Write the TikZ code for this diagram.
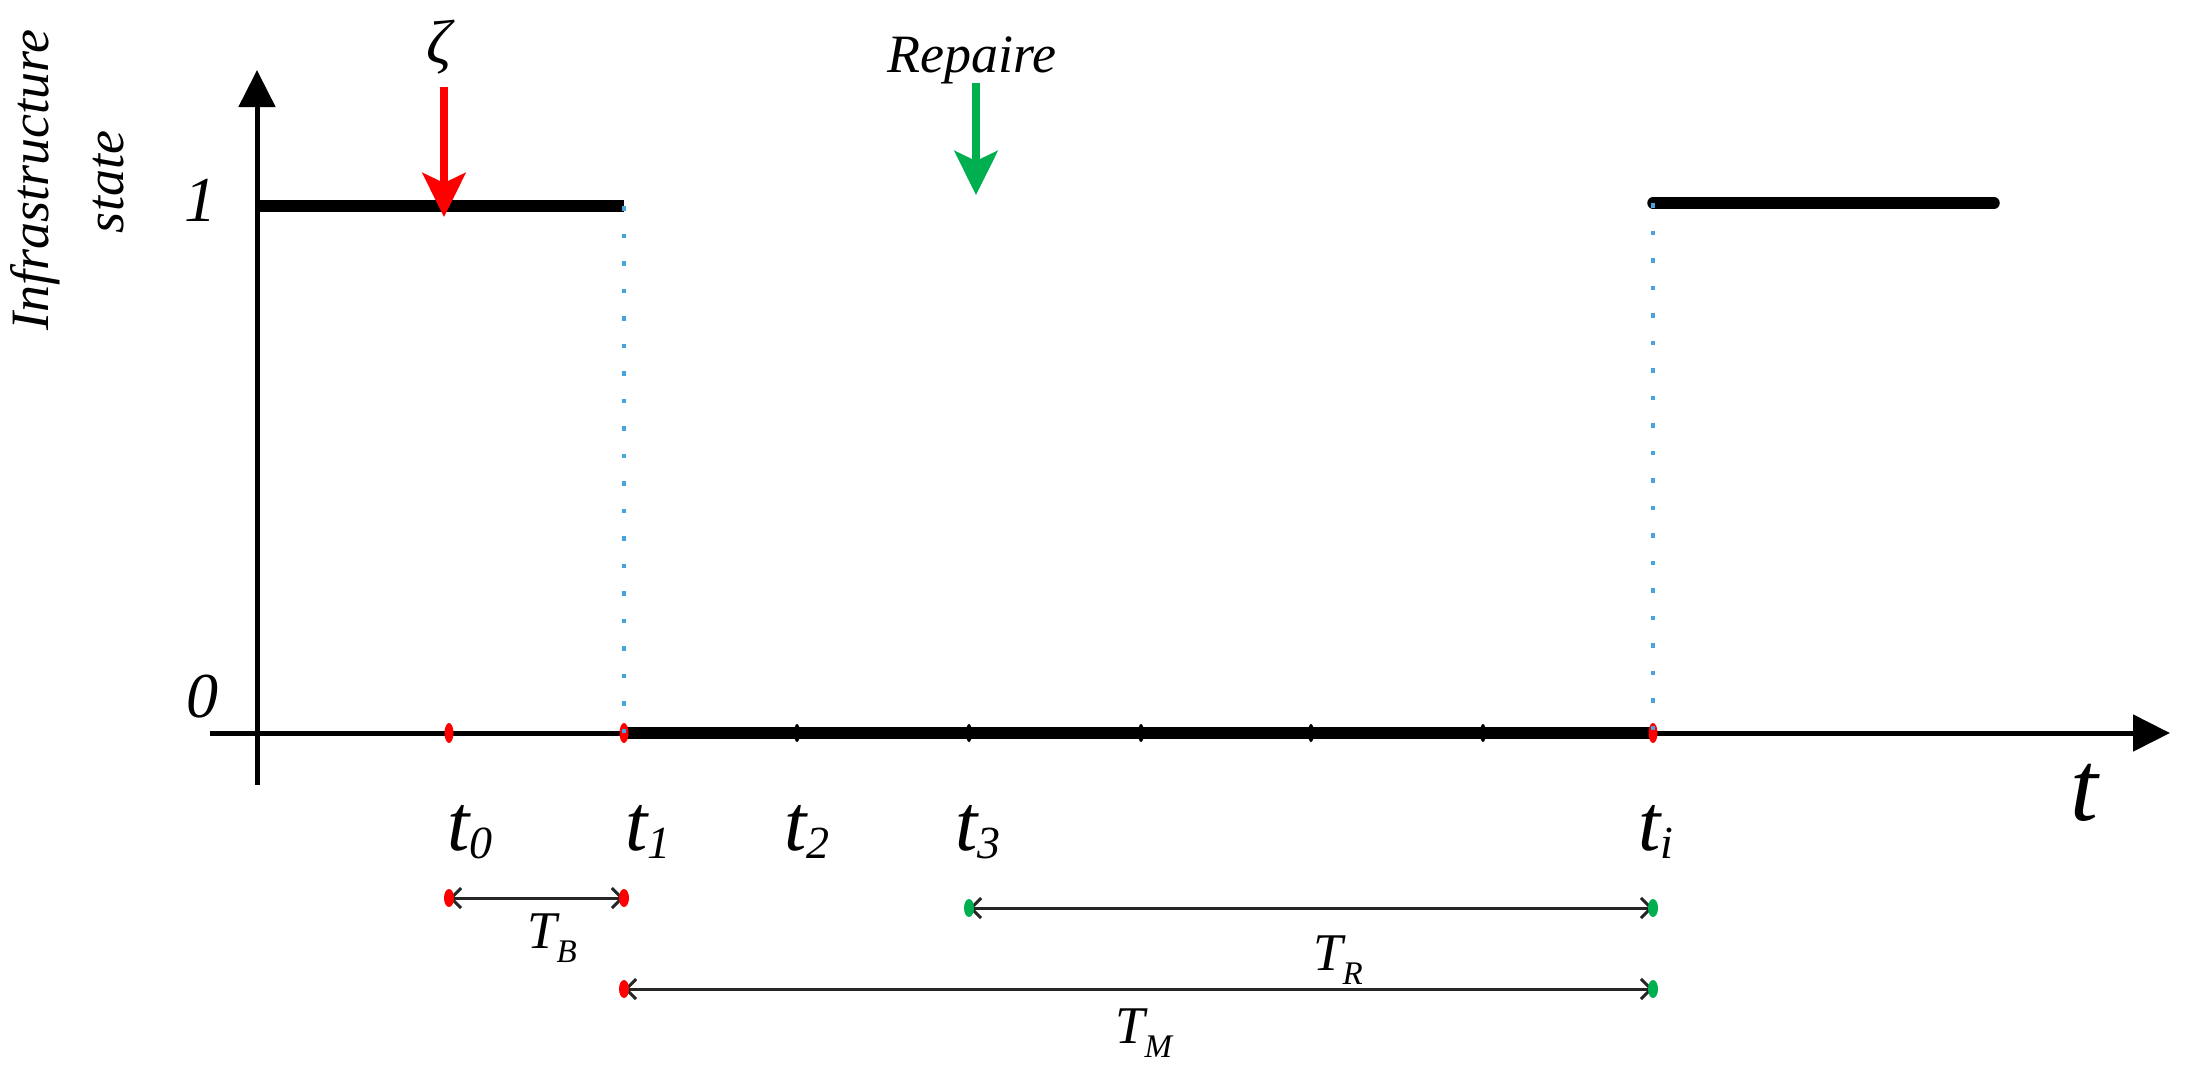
\documentclass[tikz,border=0pt]{standalone}
\usepackage{fontspec}
\setmainfont{Liberation Serif}
\usetikzlibrary{arrows.meta}
\definecolor{dotblue}{RGB}{72,164,224}
\definecolor{evred}{RGB}{255,0,0}
\definecolor{evgreen}{RGB}{0,176,80}
\newcommand\mytl[1]{{\fontsize{80}{80}\selectfont t}\raisebox{-8pt}{\fontsize{46}{46}\selectfont #1}}
\newcommand\mydl[2]{{\fontsize{53}{53}\selectfont #1}\raisebox{-14pt}{\fontsize{33}{33}\selectfont #2}}
\tikzset{
  axisline/.style={line width=5pt, -{Triangle[length=37pt,width=36pt]}},
  stateline/.style={line width=11.5pt},
  guide/.style={draw=dotblue, line width=4.5pt, dash pattern=on 4.5pt off 23pt},
  eventarrow/.style={line width=8pt, -{Stealth[length=44pt,width=43pt,inset=10pt]}},
  dimline/.style={line width=3pt, draw=black!85, {Straight Barb[length=10pt,width=20pt]}-{Straight Barb[length=10pt,width=20pt]}},
  lbl/.style={inner sep=0pt, font=\itshape},
}
\begin{document}
\begin{tikzpicture}[x=1pt,y=-1pt]
\useasboundingbox (0,0) rectangle (2189,1080);
% coordinates
\coordinate (yb) at (257,785); \coordinate (yt) at (257,70);
\coordinate (xl) at (210,733); \coordinate (xr) at (2170,733);
\coordinate (t0) at (449,733); \coordinate (t1) at (624,733);
\coordinate (t2) at (797,733); \coordinate (t3) at (969,733);
\coordinate (t4) at (1141,733); \coordinate (t5) at (1311,733);
\coordinate (t6) at (1483,733); \coordinate (ti) at (1653,733);
\coordinate (s1a) at (257,206); \coordinate (s1b) at (624,206);
\coordinate (s2a) at (1653,203); \coordinate (s2b) at (1994,203);
\coordinate (ra) at (444,87); \coordinate (rb) at (444,217);
\coordinate (ga) at (976,83); \coordinate (gb) at (976,195);
\coordinate (b0) at (449,898); \coordinate (b1) at (624,898);
\coordinate (r0) at (969,908); \coordinate (r1) at (1653,908);
\coordinate (m0) at (624,989); \coordinate (m1) at (1653,989);
% axes
\draw[axisline] (yb) -- (yt);
\draw[axisline] (xl) -- (xr);
% state lines
\draw[stateline] (s1a) -- (s1b);
\draw[stateline, line cap=round] (s2a) -- (s2b);
\draw[stateline] (t1) -- (ti);
% ticks
\foreach \p in {t2,t3,t4,t5,t6} \fill (\p) ellipse [x radius=3pt, y radius=9pt];
\foreach \p in {t0,t1,ti} \fill[evred] (\p) ellipse [x radius=4.5pt, y radius=10pt];
% guides
\draw[guide] (s1b) -- (t1);
\draw[guide] (s2a) -- (ti);
% event arrows
\draw[eventarrow, evred] (ra) -- (rb);
\draw[eventarrow, evgreen] (ga) -- (gb);
% dimension lines
\draw[dimline] (b0) -- (b1);
\draw[dimline] (r0) -- (r1);
\draw[dimline] (m0) -- (m1);
\foreach \p in {b0,b1,m0} \fill[evred] (\p) ellipse [x radius=5pt, y radius=9pt];
\foreach \p in {r0,r1,m1} \fill[evgreen] (\p) ellipse [x radius=5pt, y radius=9pt];
% labels
\node[lbl, rotate=90, anchor=base] (ylab1) at (48,180) {\fontsize{54}{54}\selectfont Infrastructure};
\node[lbl, rotate=90, anchor=base] (ylab2) at (123,182) {\fontsize{54}{54}\selectfont state};
\node[lbl] (one) at (200,200) {\fontsize{64}{64}\selectfont 1};
\node[lbl] (zero) at (202,697) {\fontsize{64}{64}\selectfont 0};
\node[lbl] (zeta) at (439,47) {\fontsize{62}{62}\selectfont ζ};
\node[lbl, anchor=base west] (rep) at (887,72) {\fontsize{54}{54}\selectfont Repaire};
\node[lbl] (tax) at (2084,793) {\fontsize{100}{100}\selectfont t};
\node[lbl, anchor=base west] (lt0) at (447,850) {\mytl{0}};
\node[lbl, anchor=base west] (lt1) at (625,850) {\mytl{1}};
\node[lbl, anchor=base west] (lt2) at (784,850) {\mytl{2}};
\node[lbl, anchor=base west] (lt3) at (955,850) {\mytl{3}};
\node[lbl, anchor=base west] (lti) at (1638,850) {\mytl{i}};
\node[lbl, anchor=base west] (lTB) at (527,948) {\mydl{T}{B}};
\node[lbl, anchor=base west] (lTR) at (1313,970) {\mydl{T}{R}};
\node[lbl, anchor=base west] (lTM) at (1115,1043) {\mydl{T}{M}};
\end{tikzpicture}
\end{document}
